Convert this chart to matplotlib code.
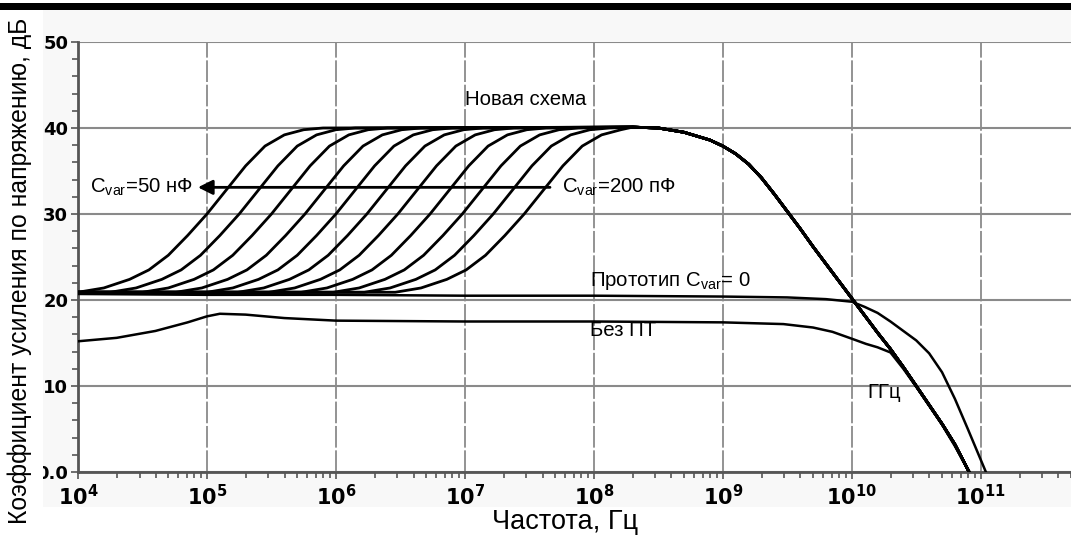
# voltage gain vs frequency, new scheme / prototype / no-FET

import numpy as np
import matplotlib.pyplot as plt
from matplotlib.patches import Rectangle
from matplotlib.ticker import LogLocator, NullFormatter
from matplotlib.transforms import Bbox, TransformedBbox

plt.rcParams['font.family'] = ['Liberation Sans', 'DejaVu Sans']
plt.rcParams['mathtext.fontset'] = 'custom'
plt.rcParams['mathtext.rm'] = 'Liberation Sans'
plt.rcParams['mathtext.it'] = 'Liberation Sans'

# frequencies are given as log10(f, Hz)
# rising edge of the "new scheme" curves, decades relative to the 30 dB point
rise_off = [-1.0, -0.8, -0.6, -0.45, -0.3, -0.15, 0.0, 0.15, 0.3, 0.45, 0.6, 0.75, 0.9]
rise_db = [20.9, 21.4, 22.4, 23.5, 25.2, 27.5, 30.0, 32.8, 35.6, 37.9, 39.2, 39.8, 40.0]
# 30 dB crossing of each curve, Cvar = 50 nF ... 200 pF
mid_dec = [5.00, 5.25, 5.50, 5.76, 6.00, 6.24, 6.48, 6.73, 6.98, 7.22, 7.46]
low_db = 20.9
# common peak and roll-off
tail_dec = [8.30, 8.50, 8.70, 8.90, 9.00, 9.10, 9.20, 9.30, 9.40, 9.50, 9.60, 9.70, 9.80, 9.90,
            10.00, 10.10, 10.20, 10.30, 10.40, 10.50, 10.60, 10.70, 10.80, 10.91]
tail_db = [40.1, 40.0, 39.5, 38.6, 37.9, 37.0, 35.8, 34.2, 32.3, 30.3, 28.3, 26.2, 24.2, 22.2,
           20.2, 18.2, 16.2, 14.3, 12.2, 10.0, 7.8, 5.6, 3.2, 0.0]

proto_dec = [4.0, 5.0, 6.0, 7.0, 8.0, 9.0, 9.5, 9.8, 10.0, 10.1, 10.2, 10.3, 10.4, 10.5, 10.6,
             10.7, 10.8, 10.9, 11.04]
proto_db = [20.7, 20.6, 20.6, 20.5, 20.5, 20.4, 20.3, 20.1, 19.8, 19.2, 18.5, 17.5, 16.4, 15.3, 13.8,
            11.6, 8.5, 5.0, 0.0]

nofet_dec = [4.0, 4.3, 4.6, 4.85, 5.0, 5.1, 5.3, 5.6, 6.0, 7.0, 8.0, 9.0, 9.47, 9.7, 9.85, 10.0,
             10.11, 10.2, 10.3, 10.4, 10.5, 10.6, 10.7, 10.8, 10.9]
nofet_db = [15.2, 15.6, 16.4, 17.4, 18.1, 18.4, 18.3, 17.9, 17.6, 17.5, 17.5, 17.4, 17.2, 16.8, 16.3, 15.5,
            14.9, 14.5, 13.9, 12.0, 9.9, 7.7, 5.5, 3.0, 0.3]

fig = plt.figure(figsize=(10.71, 5.37), dpi=100)
W, H = 1071, 537

# grey panel behind the axes and black bar on top
fig.patches.append(Rectangle((43 / W, 1 - 507 / H), 1 - 43 / W, 497 / H,
                             transform=fig.transFigure, facecolor='#f8f8f8', edgecolor='none', zorder=-2))
fig.patches.append(Rectangle((0, 1 - 9.5 / H), 1, 6.5 / H,
                             transform=fig.transFigure, facecolor='black', edgecolor='none', zorder=-1))

ax = fig.add_axes([78 / W, 1 - 472 / H, 1 - 78 / W, 430 / H])
ax.set_facecolor('white')
ax.set_xscale('log')
ax.set_xlim(1e4, 10 ** 11.7)
ax.set_ylim(0, 50)

for mid in mid_dec:
    xs = [4.0]
    ys = [low_db]
    for o, d in zip(rise_off, rise_db):
        if 4.0 < mid + o < tail_dec[0] - 0.03:
            xs.append(mid + o)
            ys.append(d)
    xs += tail_dec
    ys += tail_db
    ax.plot(10 ** np.array(xs), ys, color='black', lw=2.0, zorder=3)

ax.plot(10 ** np.array(proto_dec), proto_db, color='black', lw=1.8, zorder=3)
ax.plot(10 ** np.array(nofet_dec), nofet_db, color='black', lw=1.8, zorder=3)

# ticks and grid
ax.set_xticks([10.0 ** k for k in range(4, 12)])
ax.set_xticklabels([r'$\mathbf{10^{%d}}$' % k for k in range(4, 12)])
ax.xaxis.set_minor_locator(LogLocator(base=10, subs=np.arange(2, 10), numticks=100))
ax.xaxis.set_minor_formatter(NullFormatter())
ax.set_yticks([0, 10, 20, 30, 40, 50])
ax.set_yticklabels(['0.0', '10', '20', '30', '40', '50'])
ax.set_yticks(np.arange(0, 51, 2), minor=True)
ax.xaxis.grid(True, which='major', color='#8a8a8a', lw=1.3, linestyle=(0, (12, 1.5)))
ax.yaxis.grid(True, which='major', color='#8a8a8a', lw=1.5)
ax.set_axisbelow(True)

for s in ['top', 'right']:
    ax.spines[s].set_visible(False)
for s in ['left', 'bottom']:
    ax.spines[s].set_color('#555555')
    ax.spines[s].set_linewidth(2)

ax.tick_params(axis='both', which='both', direction='out', color='#555555', width=1.2)
ax.tick_params(axis='both', which='major', length=5)
ax.tick_params(axis='both', which='minor', length=4)
ax.tick_params(axis='x', which='major', pad=4)
ax.tick_params(axis='y', which='major', pad=2)
for lbl in ax.get_xticklabels():
    lbl.set_fontfamily('DejaVu Sans')
    lbl.set_math_fontfamily('dejavusans')
    lbl.set_fontsize(15)
for lbl in ax.get_yticklabels():
    lbl.set_fontfamily('DejaVu Sans')
    lbl.set_fontweight('bold')
    lbl.set_fontsize(13)
# "0.0" is cut by the left edge of the grey panel
clip = TransformedBbox(Bbox([[43 / W, 0], [1, 1]]), fig.transFigure)
for lbl in ax.get_yticklabels():
    lbl.set_clip_box(clip)
    lbl.set_clip_on(True)

# annotations
fs = 14.7
ax.text(10 ** 7.47, 43.3, 'Новая схема', ha='center', va='center', fontsize=fs)
ax.annotate('', xy=(10 ** 4.93, 33.1), xytext=(10 ** 7.66, 33.1),
            arrowprops=dict(arrowstyle='-|>', color='black', lw=2, mutation_scale=22, shrinkA=0, shrinkB=0))
ax.text(10 ** 4.89, 33.1, r'C$_{\mathregular{var}}$=50 нФ', ha='right', va='center', fontsize=fs)
ax.text(10 ** 7.75, 33.1, r'C$_{\mathregular{var}}$=200 пФ', ha='left', va='center', fontsize=fs)
ax.text(10 ** 7.97, 22.2, r'Прототип C$_{\mathregular{var}}$= 0', ha='left', va='center', fontsize=fs)
ax.text(10 ** 7.97, 16.5, 'Без ПТ', ha='left', va='center', fontsize=fs)
ax.text(10 ** 10.12, 9.3, 'ГГц', ha='left', va='center', fontsize=fs)

fig.text(20 / W, 1 - 271 / H, 'Коэффициент усиления по напряжению, дБ', rotation=90,
         ha='center', va='center', fontsize=17.8)
fig.text(565 / W, 1 - 522 / H, 'Частота, Гц', ha='center', va='center', fontsize=19.5)

fig.savefig('out.png', dpi=100)
